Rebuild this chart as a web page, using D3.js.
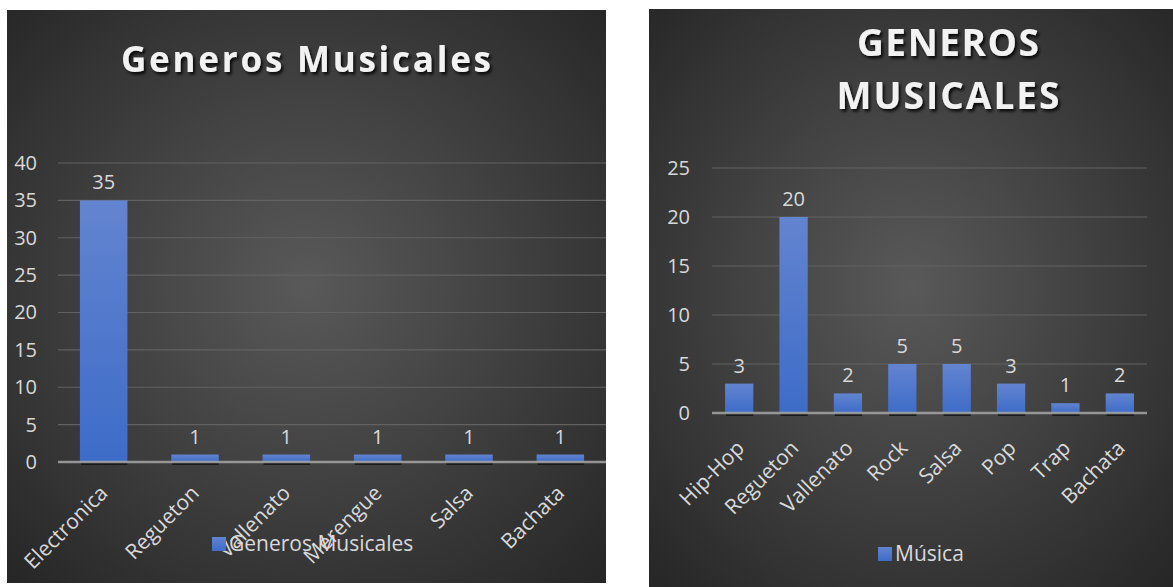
<!DOCTYPE html>
<html>
<head>
<meta charset="utf-8">
<script src="https://cdn.jsdelivr.net/npm/d3@7"></script>
<style>
  html, body { margin: 0; padding: 0; background: #fff; }
  svg { display: block; }
  text { font-family: "Open Sans", Lato, sans-serif; }
</style>
</head>
<body>
<div id="chart"></div>
<script>
// Two bar charts side by side: survey of music genres

const leftCategories = ["Electronica", "Regueton", "Vallenato", "Merengue", "Salsa", "Bachata"];
const leftValues = [35, 1, 1, 1, 1, 1];
const leftTicks = [0, 5, 10, 15, 20, 25, 30, 35, 40];

const rightCategories = ["Hip-Hop", "Regueton", "Vallenato", "Rock", "Salsa", "Pop", "Trap", "Bachata"];
const rightValues = [3, 20, 2, 5, 5, 3, 1, 2];
const rightTicks = [0, 5, 10, 15, 20, 25];

const W = 1173, H = 587;

const svg = d3.select("#chart").append("svg")
    .attr("width", W)
    .attr("height", H);

const defs = svg.append("defs");

// panel background
const bg = defs.append("radialGradient")
    .attr("id", "panel-bg")
    .attr("cx", "50%").attr("cy", "48%").attr("r", "72%");
bg.append("stop").attr("offset", "0%").attr("stop-color", "#595959");
bg.append("stop").attr("offset", "100%").attr("stop-color", "#262626");

// bar fill
const barGrad = defs.append("linearGradient")
    .attr("id", "bar-fill")
    .attr("x1", "0%").attr("y1", "0%")
    .attr("x2", "0%").attr("y2", "100%");
barGrad.append("stop").attr("offset", "0%").attr("stop-color", "#6384d0");
barGrad.append("stop").attr("offset", "100%").attr("stop-color", "#3d6cc8");

// title shadow
const shadow = defs.append("filter").attr("id", "title-shadow")
    .attr("x", "-10%").attr("y", "-30%").attr("width", "130%").attr("height", "160%");
shadow.append("feDropShadow")
    .attr("dx", 2).attr("dy", 2.5)
    .attr("stdDeviation", 1.5)
    .attr("flood-color", "#000")
    .attr("flood-opacity", 0.85);

function drawChart(cfg) {
    const g = svg.append("g");

    g.append("rect")
        .attr("x", cfg.box.x).attr("y", cfg.box.y)
        .attr("width", cfg.box.w).attr("height", cfg.box.h)
        .attr("fill", "url(#panel-bg)");

    const x = d3.scaleBand()
        .domain(cfg.categories)
        .range([cfg.plot.left, cfg.plot.right])
        .paddingInner(0.48)
        .paddingOuter(0.24);

    const y = d3.scaleLinear()
        .domain([0, d3.max(cfg.ticks)])
        .range([cfg.plot.bottom, cfg.plot.top]);

    // gridlines
    g.append("g")
        .selectAll("line")
        .data(cfg.ticks.filter(t => t > 0))
        .join("line")
        .attr("x1", cfg.plot.left).attr("x2", cfg.gridRight)
        .attr("y1", d => y(d)).attr("y2", d => y(d))
        .attr("stroke", "#626262")
        .attr("stroke-width", 1.2);

    // y axis labels
    const yAxis = g.append("g")
        .attr("transform", `translate(${cfg.yLabelX},0)`)
        .call(d3.axisLeft(y).tickValues(cfg.ticks).tickSize(0).tickPadding(0));
    yAxis.select(".domain").remove();
    yAxis.selectAll("text")
        .attr("fill", "#d9d9d9")
        .style("font-size", "20px")
        .style("font-family", "'Open Sans', Lato, sans-serif");

    const data = cfg.categories.map((c, i) => ({ cat: c, val: cfg.values[i] }));

    // bar shadow below baseline
    g.append("g")
        .selectAll("rect")
        .data(data)
        .join("rect")
        .attr("x", d => x(d.cat) + 1)
        .attr("y", y(0))
        .attr("width", x.bandwidth() - 1)
        .attr("height", 3)
        .attr("fill", "#111")
        .attr("opacity", 0.8);

    // bars
    g.append("g")
        .selectAll("rect")
        .data(data)
        .join("rect")
        .attr("x", d => x(d.cat))
        .attr("y", d => y(d.val))
        .attr("width", x.bandwidth())
        .attr("height", d => y(0) - y(d.val))
        .attr("fill", "url(#bar-fill)");

    // baseline
    g.append("line")
        .attr("x1", cfg.plot.left).attr("x2", cfg.gridRight)
        .attr("y1", y(0)).attr("y2", y(0))
        .attr("stroke", "#a6a6a6")
        .attr("stroke-opacity", 0.85)
        .attr("stroke-width", 2.5);

    // data labels
    g.append("g")
        .selectAll("text")
        .data(data)
        .join("text")
        .attr("x", d => x(d.cat) + x.bandwidth() / 2)
        .attr("y", d => y(d.val) - 11)
        .attr("text-anchor", "middle")
        .attr("fill", "#d9d9d9")
        .style("font-size", "20px")
        .text(d => d.val);

    // category labels
    g.append("g")
        .selectAll("text")
        .data(data)
        .join("text")
        .attr("transform", d => `translate(${x(d.cat) + x.bandwidth() / 2 + cfg.catDx},${y(0) + cfg.catDy}) rotate(-45)`)
        .attr("text-anchor", "end")
        .attr("dy", "0.7em")
        .attr("fill", "#d9d9d9")
        .style("font-size", "21px")
        .text(d => d.cat);

    // title, one text per line, stretched to the reference width
    cfg.titleLines.forEach((line, i) => {
        g.append("text")
            .attr("x", cfg.titleX)
            .attr("y", cfg.titleY + i * cfg.titleLineH)
            .attr("text-anchor", "middle")
            .attr("textLength", cfg.titleWidths[i])
            .attr("lengthAdjust", "spacing")
            .attr("fill", "#f2f2f2")
            .attr("filter", "url(#title-shadow)")
            .style("font-size", cfg.titleSize + "px")
            .style("font-weight", "bold")
            .text(line);
    });

    // legend
    const leg = g.append("g")
        .attr("transform", `translate(${cfg.legend.x},${cfg.legend.y})`);
    leg.append("rect")
        .attr("x", 0).attr("y", -7)
        .attr("width", 14).attr("height", 14)
        .attr("fill", "url(#bar-fill)");
    leg.append("text")
        .attr("x", 17).attr("y", 0)
        .attr("dy", "0.35em")
        .attr("fill", "#d9d9d9")
        .style("font-size", "21px")
        .text(cfg.seriesName);
}

drawChart({
    box: { x: 7, y: 10, w: 599, h: 573 },
    plot: { left: 58, right: 606, top: 163, bottom: 462 },
    gridRight: 606,
    yLabelX: 37,
    categories: leftCategories,
    values: leftValues,
    ticks: leftTicks,
    catDx: -5,
    catDy: 22,
    titleLines: ["Generos Musicales"],
    titleWidths: [370],
    titleX: 306,
    titleY: 72,
    titleLineH: 0,
    titleSize: 35,
    legend: { x: 212, y: 544 },
    seriesName: "Generos Musicales"
});

drawChart({
    box: { x: 649, y: 9, w: 524, h: 578 },
    plot: { left: 712, right: 1147, top: 168, bottom: 413 },
    gridRight: 1147,
    yLabelX: 690,
    categories: rightCategories,
    values: rightValues,
    ticks: rightTicks,
    catDx: -4,
    catDy: 26,
    titleLines: ["GENEROS", "MUSICALES"],
    titleWidths: [182, 223],
    titleX: 948,
    titleY: 56,
    titleLineH: 53,
    titleSize: 37,
    legend: { x: 878, y: 554 },
    seriesName: "Música"
});
</script>
</body>
</html>
